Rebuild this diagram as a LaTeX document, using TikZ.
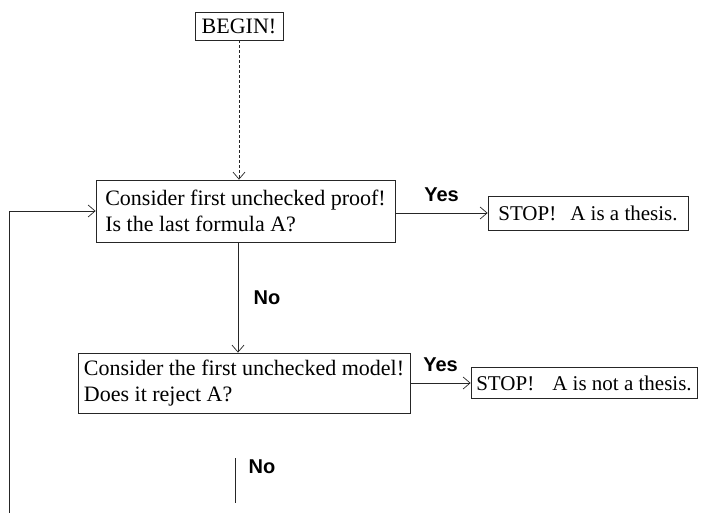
\documentclass[tikz,border=0pt]{standalone}
\usepackage{fontspec}
\setmainfont{Liberation Serif}
\setsansfont{Liberation Sans}
\usetikzlibrary{arrows.meta, positioning}

\begin{document}
\begin{tikzpicture}[x = 1pt, y = -1pt,
        link/.style = {draw = black!85, line width = 0.7pt},
        flow/.style = {link, -{Straight Barb[length = 7pt, width = 12pt]}},
        box/.style = {link, rectangle, inner xsep = 5pt, inner ysep = 0pt, align = left, font = \fontsize{22}{25.5}\selectfont},
        stopbox/.style = {box, font = \fontsize{21}{25}\selectfont},
        answer/.style = {font = \fontsize{20}{24}\selectfont\sffamily\bfseries}]
        \useasboundingbox (0, 0) rectangle (703, 513);

        \node [box, minimum width = 88pt, minimum height = 28pt] (begin) at (239, 26) {BEGIN!};
        \node [box, minimum width = 299pt, minimum height = 62pt] (proof) at (245.5, 211) {Consider first unchecked proof!\\Is the last formula A?};
        \node [stopbox, minimum width = 200pt, minimum height = 34pt] (t1) at (588, 213) {STOP!\hspace{14pt}A is a thesis.};
        \node [box, minimum width = 332pt, minimum height = 60pt] (model) at (244, 383) {Consider the first unchecked model!\\Does it reject A?};
        \node [stopbox, minimum width = 226pt, minimum height = 31pt] (t2) at (584, 383) {STOP!\hspace{18pt}A is not a thesis.};
        \coordinate (loop) at (9, 513);
        \coordinate (n1) at (235, 458);
        \coordinate (n2) at (235, 503);

        \draw [flow, densely dashed] (begin) -- (begin.south |- proof.north);
        \draw [flow] (proof.east |- t1.west) -- (t1.west) node [answer, midway, above = 8pt] {Yes};
        \draw [flow] ([xshift = -7.5pt] proof.south) -- ([xshift = -7.5pt] proof.south |- model.north) node [answer, midway, right = 12pt] {No};
        \draw [flow] (model.east) -- (t2.west) node [answer, midway, above = 8pt] {Yes};
        \draw [link] (n1) -- (n2) node [answer, pos = 0.2, right = 10pt] {No};
        \draw [flow] (loop) |- (proof.west);
    \end{tikzpicture}
\end{document}
